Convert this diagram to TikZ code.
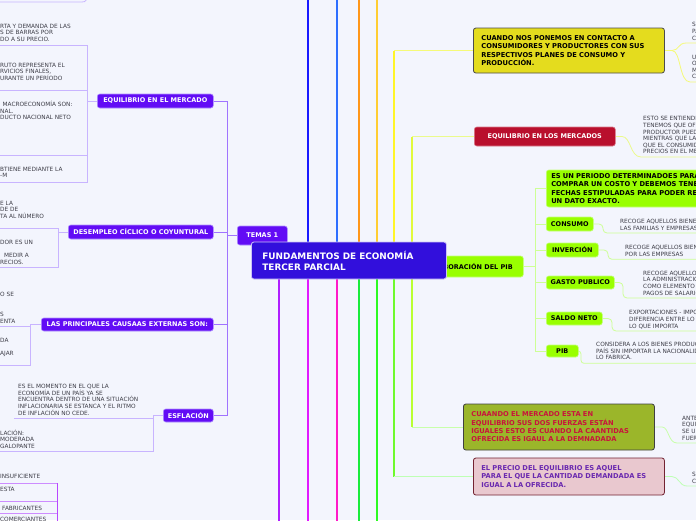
\documentclass[tikz,border=0pt]{standalone}
\usepackage{fontspec}
\setmainfont{DejaVu Sans}
\newcommand\lblfont{\fontsize{6.5}{7.5}\selectfont\bfseries}
\newcommand\bigtxt{\fontsize{6.7}{8.3}\selectfont\bfseries}
\newcommand\centxt{\fontsize{8.9}{11}\selectfont\bfseries}
\newcommand\smtxt{\fontsize{5.8}{6.65}\selectfont}
\definecolor{bgc}{RGB}{243,245,253}
\definecolor{cenc}{RGB}{50,15,220}
\definecolor{vioc}{RGB}{98,12,245}
\definecolor{viob}{RGB}{175,145,255}
\definecolor{trunkc}{RGB}{160,115,255}
\definecolor{lilc}{RGB}{200,180,255}
\definecolor{magl}{RGB}{205,140,255}
\definecolor{magd}{RGB}{185,70,255}
\definecolor{limec}{RGB}{153,255,0}
\definecolor{limeb}{RGB}{195,255,120}
\definecolor{limel}{RGB}{205,255,150}
\definecolor{crimc}{RGB}{185,15,45}
\definecolor{ylwc}{RGB}{228,220,30}
\definecolor{olivc}{RGB}{155,182,42}
\definecolor{pinkc}{RGB}{233,200,207}
\definecolor{pinkb}{RGB}{115,35,50}
\definecolor{txtc}{RGB}{60,60,70}
\definecolor{redtxt}{RGB}{200,20,60}
\definecolor{purtxt}{RGB}{105,40,175}
\definecolor{ta}{RGB}{25,25,255}
\definecolor{tb}{RGB}{45,110,255}
\definecolor{tc}{RGB}{255,150,25}
\definecolor{td}{RGB}{255,205,50}
\definecolor{te}{RGB}{255,245,40}
\definecolor{tf}{RGB}{225,250,60}
\definecolor{ba}{RGB}{175,30,255}
\definecolor{bb}{RGB}{225,25,255}
\definecolor{bc}{RGB}{255,25,200}
\definecolor{bd}{RGB}{25,235,60}
\definecolor{be}{RGB}{45,250,35}
\definecolor{bf}{RGB}{110,250,45}
\definecolor{bh}{RGB}{185,255,50}
\definecolor{hya}{RGB}{245,250,120}
\definecolor{hyb}{RGB}{235,250,140}
\definecolor{hga}{RGB}{200,255,170}
\definecolor{hgb}{RGB}{190,255,180}
\pgfdeclarelayer{bgl}
\pgfsetlayers{bgl,main}
\begin{document}
\begin{tikzpicture}[x=1pt,y=-1pt,
  mmbox/.style={rounded corners=2.5pt, line width=0.6pt, inner sep=0pt, anchor=west},
  viobox/.style={mmbox, fill=vioc, draw=viob, text=white, font=\lblfont},
  limebox/.style={mmbox, fill=limec, draw=limeb, text=black, font=\lblfont},
  bigbox/.style={mmbox, line width=0.8pt, font=\bigtxt, align=left, inner xsep=8pt, text width=175pt, minimum height=45pt},
  sm/.style={anchor=north west, inner sep=0pt, font=\smtxt, text=txtc, align=left},
  vline/.style={line width=1.4pt},
  cline/.style={line width=0.8pt},
]
\useasboundingbox (0,0) rectangle (696,520);

% ---------- nodes ----------
\node[viobox, minimum width=50pt, minimum height=19pt] (temas) at (237,235.5) {TEMAS 1};
\node[limebox, minimum width=104pt, minimum height=21pt] (elab) at (419,266.5) {ELABORACIÓN DEL PIB};
\node[mmbox, fill=cenc, draw=white!75!cenc, line width=0.8pt, text=white, font=\centxt, align=left, inner xsep=11pt, text width=173pt, minimum height=37pt] (central) at (251,260.5) {FUNDAMENTOS DE ECONOMÍA\\TERCER PARCIAL};

\node[viobox, minimum width=116pt, minimum height=14pt] (eqm) at (97,101) {EQUILIBRIO EN EL MERCADO};
\node[viobox, minimum width=145pt, minimum height=14pt] (des) at (68,232) {DESEMPLEO CÍCLICO O COYUNTURAL};
\node[viobox, minimum width=172pt, minimum height=13pt] (cau) at (41,324.5) {LAS PRINCIPALES CAUSAAS EXTERNAS SON:};
\node[viobox, minimum width=50pt, minimum height=13pt] (esf) at (163,415.5) {ESFLACIÓN};

\node[bigbox, fill=ylwc, draw=black!70] (cuando) at (473,50.5) {CUANDO NOS PONEMOS EN CONTACTO A\\CONSUMIDORES Y PRODUCTORES CON SUS\\RESPECTIVOS PLANES DE CONSUMO Y\\PRODUCCIÓN.};
\node[mmbox, fill=crimc, draw=crimc!55!white, text=white, font=\lblfont, minimum width=141pt, minimum height=19pt] (eql) at (474,136.5) {EQUILIBRIO EN LOS MERCADOS};
\node[limebox, font=\bigtxt, align=left, inner xsep=5pt, text width=190pt, minimum height=37pt] (per) at (546,188.5) {ES UN PERIODO DETERMINADOES PARA\\COMPRAR UN COSTO Y DEBEMOS TENER\\FECHAS ESTIPULADAS PARA PODER REA\\UN DATO EXACTO.};
\node[limebox, minimum width=47pt, minimum height=14pt] (con) at (546,224) {CONSUMO};
\node[limebox, minimum width=52pt, minimum height=14pt] (inv) at (546,250) {INVERCIÓN};
\node[limebox, minimum width=68pt, minimum height=13pt] (gas) at (546,282.5) {GASTO PUBLICO};
\node[limebox, minimum width=56pt, minimum height=13pt] (sal) at (546,318.5) {SALDO NETO};
\node[limebox, minimum width=32pt, minimum height=12pt] (pib) at (546,351) {PIB};
\node[bigbox, fill=olivc, draw=black!75, text=redtxt, minimum height=46pt] (cua) at (463,427) {CUAANDO EL MERCADO ESTA EN\\EQUILIBRIO SUS DOS FUERZAS ESTÁN\\IGUALES ESTO ES CUANDO LA CAANTIDAS\\OFRECIDA ES IGAUL A LA DEMNADADA};
\node[bigbox, fill=pinkc, draw=pinkb, text=purtxt, minimum height=37pt] (pre) at (473,476.5) {EL PRECIO DEL EQUILIBRIO ES AQUEL\\PARA EL QUE LA CANTIDAD DEMANDADA ES\\IGUAL A LA OFRECIDA.};

% ---------- small texts ----------
\node[sm] (a1) at (0,23.6) {RTA Y DEMANDA DE LAS\\S DE BARRAS POR\\DO A SU PRECIO.};
\node[sm] (a2) at (0,62.6) {RUTO REPRESENTA EL\\RVICIOS FINALES,\\URANTE UN PERÍODO};
\node[sm] (a3) at (0,100.8) {\hspace*{2.5pt}MACROECONOMÍA SON:\\NAL.\\DUCTO NACIONAL NETO};
\node[sm] (a4) at (0,166.6) {BTIENE MEDIANTE LA\\-M};
\node[sm] (b1) at (0,200.6) {E LA\\DE DE\\TA AL NÚMERO};
\node[sm] (b2) at (0,239.6) {DOR ES UN\\~\\\hspace*{4pt}MEDIR A\\RECIOS.};
\node[sm] (c1) at (0,292.2) {O SE\\~\\~\\S\\ENTA};
\node[sm] (c2) at (0,337.9) {DA\\~\\AJAR};
\node[sm] (d1) at (18,383.9) {ES EL MOMENTO EN EL QUE LA\\ECONOMÍA DE UN PAÍS YA SE\\ENCUENTRA DENTRO DE UNA SITUACIÓN\\INFLACIONARIA SE ESTANCA Y EL RITMO\\DE INFLACIÓN NO CEDE.};
\node[sm] (d2) at (0,429.6) {LACIÓN:\\MODERADA\\GALOPANTE};
\node[sm] (e1) at (0,474) {INSUFICIENTE};
\node[sm] (e2) at (0,487.2) {ESTA};
\node[sm] (e3) at (2,505.5) {FABRICANTES};
\node[sm] (e4) at (0,517.2) {COMERCIANTES};

\node[sm] (k1) at (692,22.2) {S\\PA\\C};
\node[sm] (k2) at (692,54.6) {U\\O\\M\\C};
\node[sm] (k3) at (643,116.2) {ESTO SE ENTIENDE\\TENEMOS QUE OFE\\PRODUCTOR PUEDE\\MIENTRAS QUE LA\\QUE EL CONSUMID\\PRECIOS EN EL ME};
\node[sm] (k4) at (620,218.9) {RECOGE AQUELLOS BIENES\\LAS FAMILIAS Y EMPRESAS};
\node[sm] (k5) at (625,245.2) {RECOGE AQUELLOS BIENE\\POR LAS EMPRESAS};
\node[sm] (k6) at (643,270.6) {RECOGE AQUELLOS\\LA ADMINISTRACIÓ\\COMO ELEMENTO D\\PAGOS DE SALARIO};
\node[sm] (k7) at (629,310.2) {EXPORTACIONES - IMPO\\DIFERENCIA ENTRE LO\\LO QUE IMPORTA};
\node[sm] (k8) at (596,341.9) {CONSIDERA A LOS BIENES PRODUC\\PAÍS SIN IMPORTAR LA NACIONALID\\LO FABRICA.};
\node[sm] (k9) at (682,415.9) {ANTE\\EQUI\\SE U\\FUER};
\node[sm] (k10) at (692,472.2) {S\\C};

% ---------- connectors ----------
\begin{pgfonlayer}{bgl}
\fill[bgc] (0,0) rectangle (696,520);
% central verticals top
\draw[vline, ta] (central.north -| 308,0) -- (308,-5);
\draw[vline, tb] (central.north -| 337,0) -- (337,-5);
\draw[vline, tc] (central.north -| 359,0) -- (359,-5);
\draw[vline, td] (central.north -| 377,0) -- (377,-5);
\draw[vline, te] (central.north -| 394,0) -- (cuando.west -| 394,0);
\draw[cline, hya] (cuando.west -| 394,0) -- (cuando.west);
\draw[vline, tf] (central.north -| 412,0) -- (eql.west -| 412,0);
\draw[cline, hyb] (eql.west -| 412,0) -- (eql.west);
% central verticals bottom
\draw[vline, ba] (central.south -| 279,0) -- (279,525);
\draw[vline, bb] (central.south -| 308,0) -- (308,525);
\draw[vline, bc] (central.south -| 337,0) -- (337,525);
\draw[vline, bd] (central.south -| 359,0) -- (359,525);
\draw[vline, be] (central.south -| 377,0) -- (377,525);
\draw[vline, bf] (central.south -| 394,0) -- (pre.west -| 394,0);
\draw[cline, hgb] (pre.west -| 394,0) -- (pre.west);
\draw[vline, bh] (central.south -| 412,0) -- (cua.west -| 412,0);
\draw[cline, hga] (cua.west -| 412,0) -- (cua.west);
% left trunk
\coordinate (tk) at (227,235.5);
\draw[line width=1pt, trunkc] (temas.west) -- (tk);
\draw[line width=1pt, trunkc] (eqm.east) -- (eqm.east -| tk) -- (esf.east -| tk) -- (esf.east);
\draw[line width=1pt, trunkc] (des.east) -- (des.east -| tk);
\draw[line width=1pt, trunkc] (cau.east) -- (cau.east -| tk);
% group A
\draw[cline, lilc] (-5,2) -- (82,2) .. controls (86,2) and (87,0) .. (87,-5);
\draw[cline, lilc] (eqm.west) -- (87,101);
\draw[cline, lilc] (-5,45) -- (87,45) -- (87,182) -- (-5,182);
\draw[cline, lilc] (-5,90) -- (87,90);
\draw[cline, lilc] (-5,155) -- (87,155);
% group B
\draw[cline, lilc] (des.west) -- (58,232);
\draw[cline, lilc] (-5,228.3) -- (58,228.3) -- (58,267.3) -- (-5,267.3);
% group C
\draw[cline, lilc] (cau.west) -- (30,324.5) -- (30,365.7) -- (-5,365.7);
\draw[cline, lilc] (-5,326.7) -- (30,326.7);
% group D
\draw[cline, lilc] (esf.west) -- (153,415.5) -- (153,451) -- (-5,451);
\draw[cline, lilc] (14,418.5) -- (153,418.5);
% group E
\draw[cline, magl] (-5,483) -- (57,483);
\draw[cline, magl] (-5,501.7) -- (57,501.7);
\draw[cline, magl] (-5,513.3) -- (57,513.3);
\draw[line width=1pt, magd] (57,483) -- (57,525);
% right side
\draw[cline, hya] (cuando.east) -- (672,50.5) .. controls (679,50.5) and (678,43) .. (686,43) -- (700,43);
\draw[cline, hya] (672,50.5) .. controls (681,50.5) and (679,82) .. (690,82) -- (700,82);
\draw[cline, hyb] (eql.east) -- (622,136.5) .. controls (631,136.5) and (630,157) .. (641,157) -- (700,157);
\draw[cline, limel] (elab.east) -- (535,266.5);
\draw[cline, limel] (per.west -| 535,0) -- (pib.west -| 535,0);
\foreach \n in {per,con,inv,gas,sal,pib} \draw[cline, limel] (\n.west -| 535,0) -- (\n.west);
\draw[cline, limel, rounded corners=4pt] (con.east) -- (603,224) -- (603,233) -- (700,233);
\draw[cline, limel, rounded corners=4pt] (inv.east) -- (608,250) -- (608,259.3) -- (700,259.3);
\draw[cline, limel, rounded corners=4pt] (gas.east) -- (623,282.5) -- (623,298) -- (700,298);
\draw[cline, limel, rounded corners=4pt] (sal.east) -- (612,318.5) -- (612,331) -- (700,331);
\draw[cline, limel, rounded corners=3pt] (pib.east) -- (581,351) -- (581,363.3) -- (700,363.3);
\draw[cline, hga] (cua.east) -- (662,427) .. controls (669,427) and (668,443) .. (677,443) -- (700,443);
\draw[cline, hgb] (pre.east) -- (672,476.5) .. controls (679,476.5) and (679,486) .. (687,486) -- (700,486);
\end{pgfonlayer}
\end{tikzpicture}
\end{document}
